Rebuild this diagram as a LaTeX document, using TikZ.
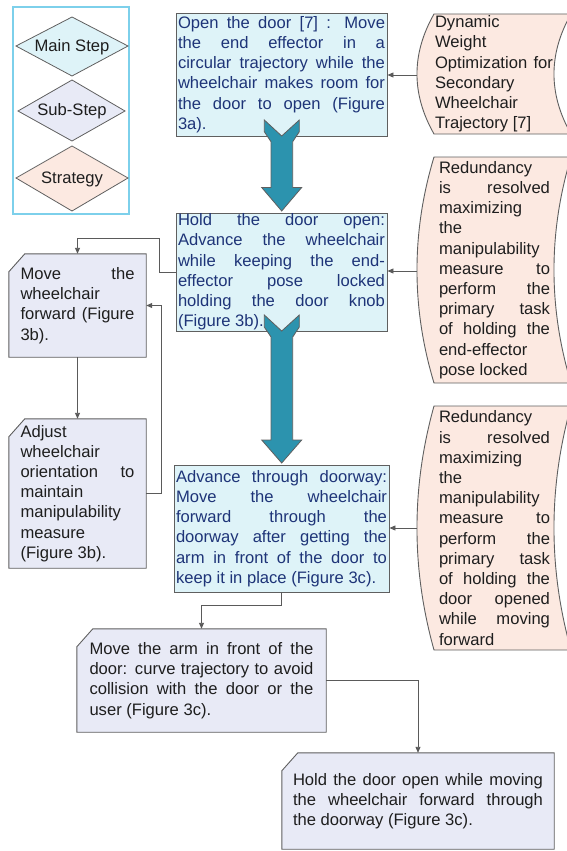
\documentclass[tikz,border=0pt]{standalone}
\usepackage{fontspec}
\setmainfont{Liberation Sans}
\usetikzlibrary{arrows.meta,calc}
\definecolor{mainfill}{RGB}{222,243,248}
\definecolor{subfill}{RGB}{232,234,246}
\definecolor{stratfill}{RGB}{252,233,225}
\definecolor{maintext}{RGB}{30,52,120}
\definecolor{darktext}{RGB}{30,30,30}
\definecolor{bordc}{RGB}{95,95,95}
\definecolor{connc}{RGB}{90,90,90}
\definecolor{tealc}{RGB}{44,147,174}
\definecolor{legendc}{RGB}{125,208,235}
\pgfdeclarelayer{bg}
\pgfsetlayers{bg,main}
\newcommand\cutbox[1]{\filldraw[subshape] ($(#1.north west)+(0,18)$) -- ($(#1.north west)+(16,0)$) -- (#1.north east) -- (#1.south east) -- (#1.south west) -- cycle;}
\newcommand\stratshape[2]{% top, bottom
  \pgfmathsetmacro\sk{(#2-#1)/3}
  \filldraw[stratshapestyle] (434,#1) -- (571,#1) .. controls (548.3,#1+\sk) and (548.3,#2-\sk) .. (571,#2) -- (434,#2) .. controls (411.3,#2-\sk) and (411.3,#1+\sk) .. (434,#1) -- cycle;}
\begin{document}
\begin{tikzpicture}[x=1pt,y=-1pt,
  txt/.style={font=\fontsize{16.6}{20.2}\selectfont},
  mainbox/.style={draw=bordc, line width=0.9pt, fill=mainfill, text=maintext, align=justify, inner xsep=2pt, inner ysep=0.5pt, txt},
  subbox/.style={align=justify, inner ysep=0pt, text=darktext, txt},
  subshape/.style={draw=bordc, line width=0.9pt, fill=subfill},
  strattxt/.style={align=justify, inner sep=0pt, text=darktext, txt},
  stratshapestyle/.style={draw=bordc, line width=0.9pt, fill=stratfill},
  legtxt/.style={inner sep=0pt, text=darktext, txt},
  diamondstyle/.style={draw=bordc, line width=0.8pt},
  bigarrow/.style={draw=bordc, line width=0.8pt, fill=tealc},
  conn/.style={draw=connc, line width=0.9pt, -{Triangle[length=6pt,width=5pt]}}]
\useasboundingbox (0,0) rectangle (567,851);
\hyphenpenalty=10000

% legend
\draw[legendc, line width=2pt] (13,7) rectangle (129,214);
\filldraw[diamondstyle, fill=mainfill] (16,46) -- (72,17) -- (128,46) -- (72,76) -- cycle;
\node[legtxt] (lmain) at (72,47) {Main Step};
\filldraw[diamondstyle, fill=subfill] (18,111) -- (72,80) -- (125,111) -- (72,141) -- cycle;
\node[legtxt] (lsub) at (72,111) {Sub-Step};
\filldraw[diamondstyle, fill=stratfill] (16,178) -- (72,146) -- (128,178) -- (72,211) -- cycle;
\node[legtxt] (lstrat) at (72,179) {Strategy};

% strategies
\stratshape{14}{134}
\node[strattxt, text width=118pt] (st1) at (494,74) {Dynamic\linebreak Weight\linebreak Optimization for\linebreak Secondary\linebreak Wheelchair\linebreak Trajectory [7]};
\stratshape{157}{383}
\node[strattxt, text width=111pt] (st2) at (494.5,270) {Redundancy\linebreak is resolved\linebreak maximizing\linebreak the\linebreak manipulability\linebreak measure to\linebreak perform the\linebreak primary task\linebreak of holding the\linebreak end-effector\linebreak pose locked};
\stratshape{406}{650}
\node[strattxt, text width=111pt] (st3) at (494.5,528) {Redundancy\linebreak is resolved\linebreak maximizing\linebreak the\linebreak manipulability\linebreak measure to\linebreak perform the\linebreak primary task\linebreak of holding the\linebreak door opened\linebreak while moving\linebreak forward};
\coordinate (s1w) at (417,75);
\coordinate (s2w) at (417,271);
\coordinate (s3w) at (417,528);

% main steps
\node[mainbox, text width=207pt, minimum height=123pt] (b1) at (281.5,74.5) {Open the door [7] : Move\linebreak the end effector in a\linebreak circular trajectory while the\linebreak wheelchair makes room for\linebreak the door to open (Figure\linebreak 3a).};
\node[mainbox, text width=207pt, minimum height=118pt] (b2) at (281.5,272) {Hold the door open:\linebreak Advance the wheelchair\linebreak while keeping the end-\linebreak effector pose locked\linebreak holding the door knob\linebreak (Figure 3b).};
\node[mainbox, text width=211pt, minimum height=127pt] (b3) at (281.5,528.5) {Advance through doorway:\linebreak Move the wheelchair\linebreak forward through the\linebreak doorway after getting the\linebreak arm in front of the door to\linebreak keep it in place (Figure 3c).};

% sub steps
\node[subbox, text width=114pt, inner xsep=11.5pt, minimum height=103pt] (s1) at (77.5,305.5) {Move the\linebreak wheelchair\linebreak forward (Figure\linebreak 3b).};
\node[subbox, text width=114pt, inner xsep=11.5pt, minimum height=149pt] (s2) at (77.5,493.5) {Adjust\linebreak wheelchair\linebreak orientation to\linebreak maintain\linebreak manipulability\linebreak measure\linebreak (Figure 3b).};
\node[subbox, text width=224pt, inner xsep=12.5pt, minimum height=103pt] (s3) at (201.5,680.5) {Move the arm in front of the\linebreak door: curve trajectory to avoid\linebreak collision with the door or the\linebreak user (Figure 3c).};
\node[subbox, text width=250pt, inner xsep=11pt, minimum height=96pt] (s4) at (418,801) {Hold the door open while moving\linebreak the wheelchair forward through\linebreak the doorway (Figure 3c).};
\begin{pgfonlayer}{bg}
\cutbox{s1}
\cutbox{s2}
\cutbox{s3}
\cutbox{s4}
\end{pgfonlayer}

% big arrows
\filldraw[bigarrow] (264.3,120) -- (264.3,131.7) -- (271,141.7) -- (271,187.5) -- (261.7,187.5) -- (281.7,211) -- (301.7,187.5) -- (292.7,187.5) -- (292.7,141.7) -- (299.3,131.7) -- (299.3,120) -- (281.7,136) -- cycle;
\filldraw[bigarrow] (264.3,315) -- (264.3,327) -- (271,337) -- (271,440) -- (261.7,440) -- (281.7,463) -- (301.7,440) -- (292.7,440) -- (292.7,337) -- (299.3,327) -- (299.3,315) -- (281.7,331) -- cycle;

% connectors
\draw[conn] (s1w) -- (s1w -| b1.east);
\draw[conn] (s2w) -- (s2w -| b2.east);
\draw[conn] (s3w) -- (s3w -| b3.east);
\draw[conn] (b2.west) -- ++(-16,0) |- ($(s1.north)+(0,-15)$) -- (s1.north);
\draw[conn] (s1.south) -- (s2.north);
\draw[conn] (s2.east) -- ++(15,0) |- (s1.east);
\draw[conn] (b3.south) -- ++(0,13) -| (s3.north);
\draw[conn] (s3.east) -| (s4.north);
\end{tikzpicture}
\end{document}
